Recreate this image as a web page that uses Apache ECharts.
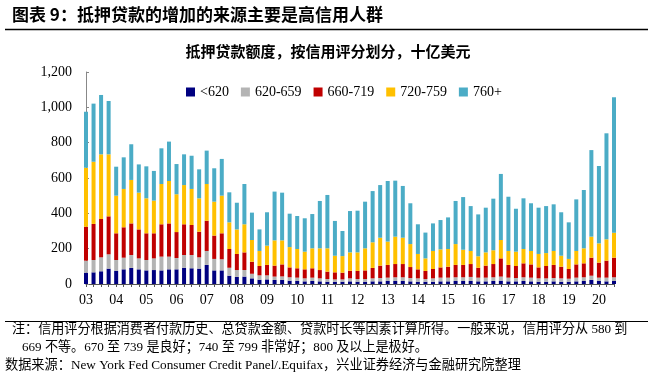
<!DOCTYPE html>
<html>
<head>
<meta charset="utf-8">
<script src="https://cdn.jsdelivr.net/npm/echarts@6/dist/echarts.min.js"></script>
<style>
html,body{margin:0;padding:0;background:#fff;}
#c{width:652px;height:378px;}
</style>
</head>
<body>
<div id="c"></div>
<script>
var years = ['03','04','05','06','07','08','09','10','11','12','13','14','15','16','17','18','19','20'];
var quarters = ['Q1','Q2','Q3','Q4'];
var yTicks = [0, 200, 400, 600, 800, 1000, 1200];
var seriesNames = ['<620', '620-659', '660-719', '720-759', '760+'];

var s620 = [64,66,72,87,74,83,91,83,77,79,77,83,
            83,92,89,87,108,77,77,47,40,42,32,24,
            26,23,23,19,17,15,17,15,13,13,13,15,
            13,13,15,15,17,17,17,15,13,13,13,15,
            15,17,17,17,15,15,17,19,15,15,17,15,
            13,13,15,13,13,15,17,23,17,15,17];
var s659 = [68,70,79,81,62,66,73,62,59,66,78,72,
            64,72,75,64,79,65,63,45,39,37,26,25,
            23,19,20,19,19,17,19,17,15,13,13,17,
            15,15,17,19,19,21,21,19,19,15,19,21,
            21,21,21,23,21,21,21,23,21,19,21,21,
            19,19,19,19,17,21,21,24,19,21,21];
var s719 = [192,204,217,215,151,172,179,164,151,142,183,188,
            147,174,170,145,171,132,147,106,91,100,68,53,
            59,62,68,56,53,51,53,47,42,40,38,43,
            46,49,59,70,72,75,75,62,51,46,53,58,
            62,70,70,73,56,68,75,103,72,68,79,75,
            62,70,74,66,55,75,79,102,85,96,111];
var s759 = [334,352,366,351,213,217,246,208,198,185,228,240,
            214,222,204,189,208,192,213,151,139,159,123,85,
            109,143,136,115,109,100,113,123,132,94,94,104,
            105,125,145,158,132,155,149,130,87,71,102,102,
            100,118,86,74,65,75,78,104,79,81,81,76,
            76,73,79,62,57,76,85,119,109,121,141];
var s760 = [317,329,336,302,164,179,202,160,181,168,202,223,
            171,174,188,164,189,189,208,170,151,228,155,122,
            189,276,270,189,187,189,194,268,302,197,142,234,
            236,264,290,298,343,317,293,231,168,146,156,166,
            179,244,298,254,237,253,292,374,307,243,287,270,
            262,266,264,246,207,292,330,490,438,600,767];

var categories = [];
years.forEach(function(y){ quarters.forEach(function(q){ categories.push(y + q); }); });
categories = categories.slice(0, s620.length);

var colors = ['#000080', '#b4b4b4', '#c00000', '#ffc000', '#4bacc6'];
var dataSets = [s620, s659, s719, s759, s760];

var serif = '"Liberation Serif", "Times New Roman", serif';
var cjk = '"Noto Sans CJK SC", sans-serif';
var mixed = '"Liberation Serif", "Noto Sans CJK SC", serif';

var chart = echarts.init(document.getElementById('c'), null, {renderer: 'canvas'});

var series = dataSets.map(function(d, i){
  return {
    name: seriesNames[i],
    type: 'bar',
    stack: 'total',
    barWidth: 4,
    data: d,
    itemStyle: {color: colors[i]},
    emphasis: {disabled: true}
  };
});

var option = {
  animation: false,
  grid: {left: 86, right: 38, top: 72, bottom: 94, containLabel: false},
  legend: {
    data: seriesNames,
    left: 181,
    top: 80,
    itemWidth: 9,
    itemHeight: 9,
    itemGap: 12,
    icon: 'rect',
    textStyle: {fontFamily: serif, fontSize: 14, color: '#000'}
  },
  xAxis: {
    type: 'category',
    data: categories,
    boundaryGap: false,
    axisLine: {lineStyle: {color: '#555', width: 1}},
    axisTick: {show: true, interval: 0, length: 3, lineStyle: {color: '#555'}},
    axisLabel: {
      interval: 3,
      margin: 9,
      fontFamily: serif,
      fontSize: 14,
      color: '#000',
      formatter: function(v){ return v.slice(0, 2); }
    },
    splitLine: {show: false}
  },
  yAxis: {
    type: 'value',
    min: yTicks[0],
    max: yTicks[yTicks.length - 1],
    interval: 200,
    axisLine: {show: true, lineStyle: {color: '#888', width: 1}},
    axisTick: {show: true, inside: true, length: 3, lineStyle: {color: '#888'}},
    axisLabel: {
      margin: 14,
      fontFamily: serif,
      fontSize: 14,
      color: '#000',
      formatter: function(v){ return v >= 1000 ? Math.floor(v/1000) + ',' + String(v % 1000).padStart(3, '0') : String(v); }
    },
    splitLine: {show: false}
  },
  series: series,
  graphic: [
    {type: 'text', left: 12, top: 6, style: {text: '图表 9：抵押贷款的增加的来源主要是高信用人群', font: 'bold 17px ' + cjk, fill: '#000'}},
    {type: 'line', shape: {x1: 5, y1: 29.5, x2: 648, y2: 29.5}, style: {stroke: '#000', lineWidth: 1.5}},
    {type: 'text', x: 328, y: 51, style: {text: '抵押贷款额度，按信用评分划分，十亿美元', font: 'bold 15px ' + cjk, fill: '#000', align: 'center', verticalAlign: 'middle'}},
    {type: 'line', shape: {x1: 5, y1: 321.5, x2: 648, y2: 321.5}, style: {stroke: '#000', lineWidth: 1}},
    {type: 'text', x: 12, y: 330, style: {text: '注：信用评分根据消费者付款历史、总贷款金额、贷款时长等因素计算所得。一般来说，信用评分从 580 到', font: '13.1px ' + mixed, fill: '#000', verticalAlign: 'middle'}},
    {type: 'text', x: 22, y: 348, style: {text: '669 不等。670 至 739 是良好；740 至 799 非常好；800 及以上是极好。', font: '13.1px ' + mixed, fill: '#000', verticalAlign: 'middle'}},
    {type: 'text', x: 5, y: 366, style: {text: '数据来源：New York Fed Consumer Credit Panel/.Equifax，兴业证券经济与金融研究院整理', font: '13.2px ' + mixed, fill: '#000', verticalAlign: 'middle'}}
  ]
};
chart.setOption(option);
</script>
</body>
</html>
